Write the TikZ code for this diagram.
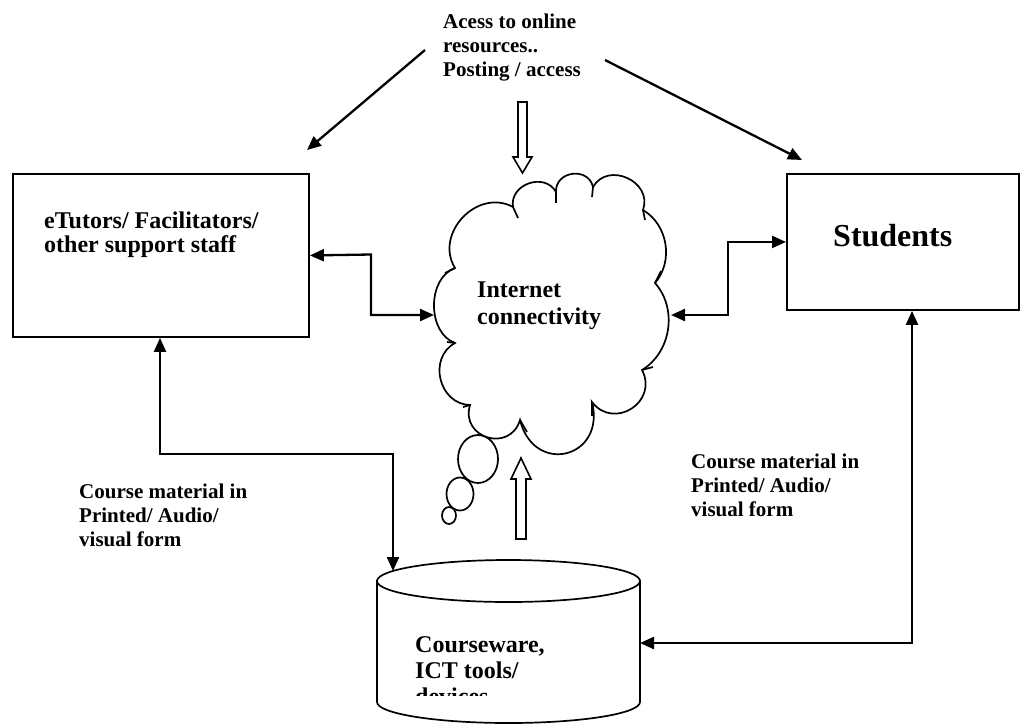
\documentclass[tikz,border=0pt]{standalone}
\usepackage{fontspec}
\setmainfont{Liberation Serif}
\usetikzlibrary{arrows.meta,calc}
\newcommand\mylines[1]{\begin{tabular}[t]{@{}l@{}}#1\end{tabular}}
\begin{document}
\begin{tikzpicture}[x=1pt,y=-1pt,
  tip/.style={-{Triangle[length=14pt,width=12pt]}},
  dconn/.style={line width=2.3pt,{Triangle[length=14pt,width=12pt]}-{Triangle[length=14pt,width=12pt]}},
  sconn/.style={line width=2.3pt,tip},
  boxs/.style={draw,line width=1.9pt,fill=white,inner sep=0pt,anchor=north west},
  hollow/.style={draw,line width=1.6pt,fill=white},
  outline/.style={draw,line width=1.7pt,fill=white},
  hint/.style={draw,line width=1.7pt},
  txt/.style={inner sep=0pt,anchor=base west,font=\bfseries\fontsize{24}{26}\selectfont},
  lbl/.style={inner sep=0pt,anchor=base west,font=\bfseries\fontsize{21}{24.4}\selectfont}]
\useasboundingbox (0,0) rectangle (1028,724);

% boxes
\node[boxs,minimum width=296,minimum height=163] (tutors) at (12,173) {};
\node[boxs,minimum width=232,minimum height=136] (students) at (786,173) {};
\node[txt,font=\bfseries\fontsize{24}{24.5}\selectfont] (tutorstxt) at (44,228) {\mylines{eTutors/ Facilitators/\\other support staff}};
\node[txt,font=\bfseries\fontsize{32}{36}\selectfont] (studtxt) at (833,246) {Students};

% thought bubbles
\draw[outline] (478,459) ellipse[x radius=20,y radius=24];
\draw[outline] (460,494) ellipse[x radius=13.5,y radius=16.5];
\draw[outline] (449,515.5) ellipse[x radius=7,y radius=8.5];

% cloud
\coordinate (cA) at (455,268);
\coordinate (cB) at (513,207);
\coordinate (cC) at (556,192);
\coordinate (cD) at (593,187);
\coordinate (cE) at (643,210);
\coordinate (cF) at (655,283);
\coordinate (cG) at (642,370);
\coordinate (cH) at (592,402);
\coordinate (cI) at (520,420);
\coordinate (cJ) at (470,405);
\coordinate (cK) at (455,343);
\path[outline] (cA)
  to[bend left=75,looseness=1.23] (cB)
  to[bend left=80,looseness=1.3] (cC)
  to[bend left=85,looseness=1.45] (cD)
  to[bend left=85,looseness=1.4] (cE)
  to[bend left=50,looseness=1.0] (cF)
  to[bend left=50,looseness=1.0] (cG)
  to[bend left=85,looseness=1.55] (cH)
  to[bend left=90,looseness=2.0] (cI)
  to[bend left=90,looseness=1.7] (cJ)
  to[bend left=75,looseness=1.25] (cK)
  to[bend left=70,looseness=1.02] (cA) -- cycle;
% inner puff hints
\draw[hint] (cA) -- ++(-10,5);
\draw[hint] (cB) -- ++(5,11);
\draw[hint] (cC) -- ++(0,11);
\draw[hint] (cD) -- ++(-1,10);
\draw[hint] (cE) -- ++(2,10);
\draw[hint] (cF) -- ++(6,-12);
\draw[hint] (cG) -- ++(11,-3);
\draw[hint] (cH) -- ++(0,14);
\draw[hint] (cI) -- ++(7,12);
\draw[hint] (cJ) -- ++(-7,2);
\draw[hint] (cK) -- ++(-8,-1);
\node[txt,font=\bfseries\fontsize{24}{27}\selectfont] (nettxt) at (477,297) {\mylines{Internet\\connectivity}};
\coordinate (cloudW) at (434,315);
\coordinate (cloudE) at (671,315);

% cylinder
\path[outline] (377,581) -- (377,702) arc[start angle=180,end angle=0,x radius=131.5,y radius=21] -- (640,581) -- cycle;
\draw[outline] (508.5,581) ellipse[x radius=131.5,y radius=21];
\coordinate (cylTop) at (393,571);
\coordinate (cylE) at (640,643);
\begin{scope}
\clip (0,0) rectangle (1028,695);
\node[txt] (cyltxt) at (415,652) {\mylines{Courseware,\\ICT tools/\\devices}};
\end{scope}

% top text and arrows
\node[lbl] (toptxt) at (443,28) {\mylines{Acess to online\\resources..\\Posting / access}};
\coordinate (tl0) at (425,50);
\coordinate (tl1) at (307,150);
\coordinate (tr0) at (605,60);
\coordinate (tr1) at (802,160);
\draw[sconn] (tl0) -- (tl1);
\draw[sconn] (tr0) -- (tr1);

% hollow arrows
\draw[hollow] (518,102) -- (527,102) -- (527,157) -- (532,157) -- (522.5,173) -- (513,157) -- (518,157) -- cycle;
\draw[hollow] (516,539) -- (526,539) -- (526,479) -- (531,479) -- (521,458) -- (511,479) -- (516,479) -- cycle;

% connectors
\draw[dconn] (tutors.east) -- (371,254.5) |- (cloudW);
\draw[dconn] (cloudE) -- (728,315) |- (students.west);
\draw[dconn] ($(tutors.south west)+(148,0)$) |- (393,454) -- (cylTop);
\draw[dconn] ($(students.south west)+(126,0)$) |- (cylE);

% labels
\node[lbl] (lbl1) at (79,498) {\mylines{Course material in\\Printed/ Audio/\\visual form}};
\node[lbl] (lbl2) at (691,468) {\mylines{Course material in\\Printed/ Audio/\\visual form}};
\end{tikzpicture}
\end{document}
